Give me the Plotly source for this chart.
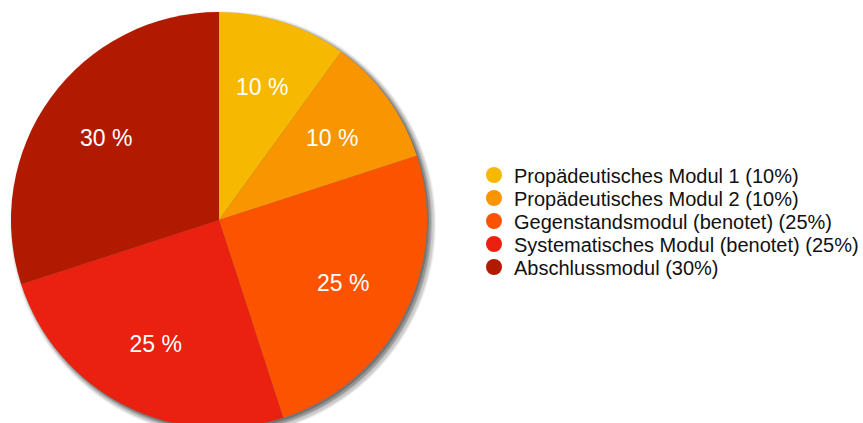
import math
import plotly.graph_objects as go

labels = ["Propädeutisches Modul 1 (10%)", "Propädeutisches Modul 2 (10%)",
          "Gegenstandsmodul (benotet) (25%)", "Systematisches Modul (benotet) (25%)",
          "Abschlussmodul (30%)"]
values = [10, 10, 25, 25, 30]
colors = ["#F6B800", "#F89500", "#FC5300", "#EA2010", "#B21A00"]

# figure a little larger than the 863x423 window: pie is cut at the bottom, legend box may pass the right edge
W, H = 885, 432
cx, cy, r = 219, 220, 208
dom = dict(x=[(cx - r) / W, (cx + r) / W], y=[(H - cy - r) / H, (H - cy + r) / H])

fig = go.Figure()

# soft drop shadow (down-right)
for off, grow, op in [(4, 5, 0.06), (4, 4, 0.09), (4, 3, 0.12), (3, 2, 0.16), (3, 1, 0.22), (2, 0, 0.32)]:
    fig.add_shape(type="circle", xref="paper", yref="paper", layer="below",
                  x0=(cx - r - grow + off) / W, x1=(cx + r + grow + off) / W,
                  y0=(H - cy - r - grow - off) / H, y1=(H - cy + r + grow - off) / H,
                  fillcolor=f"rgba(50,50,50,{op})", line=dict(width=0))

fig.add_trace(go.Pie(
    labels=labels, values=values, sort=False, direction="clockwise", rotation=0,
    marker=dict(colors=colors, line=dict(width=0)),
    textinfo="none", domain=dom, showlegend=False, hoverinfo="label+percent",
))

total = sum(values)
small = [v / total < 0.2 for v in values]

# transparent ring used to place the labels of the larger slices
fig.add_trace(go.Pie(
    labels=labels, values=values, sort=False, direction="clockwise", rotation=0, hole=0.34,
    marker=dict(colors=["rgba(0,0,0,0)"] * len(values), line=dict(width=0)),
    texttemplate=["" if s else "%{value} %" for s in small],
    textposition="inside", insidetextorientation="horizontal",
    textfont=dict(color="white", size=23, family="Liberation Sans"),
    domain=dom, showlegend=False, hoverinfo="skip",
))

# labels of the narrow slices, placed on the slice bisector
cum = 0
for v, s in zip(values, small):
    mid = 2 * math.pi * (cum + v / 2) / total
    cum += v
    if not s:
        continue
    px = cx + 0.673 * r * math.sin(mid)
    py = cy - 0.673 * r * math.cos(mid)
    fig.add_annotation(x=px / W, y=(H - py) / H, xref="paper", yref="paper",
                       text=f"{v} %", showarrow=False, xanchor="center", yanchor="middle",
                       font=dict(color="white", size=23, family="Liberation Sans"))

legend_rows = [175, 198, 221, 244, 267]
layout_legends = {}
for i, (lab, col, yr) in enumerate(zip(labels, colors, legend_rows)):
    key = "legend" if i == 0 else f"legend{i + 1}"
    fig.add_trace(go.Scatter(x=[None], y=[None], mode="markers", name=lab, legend=key,
                             marker=dict(symbol="circle", size=16, color=col)))
    layout_legends[key] = dict(x=474 / W, y=(H - yr) / H, xanchor="left", yanchor="middle",
                               font=dict(family="Liberation Sans", size=20, color="#111"),
                               itemwidth=30, bgcolor="rgba(0,0,0,0)")

fig.update_layout(
    width=W, height=H, margin=dict(l=0, r=0, t=0, b=0),
    paper_bgcolor="white", plot_bgcolor="white",
    xaxis=dict(visible=False), yaxis=dict(visible=False),
    font=dict(family="Liberation Sans"),
    **layout_legends,
)

fig.write_html("out.html", config={"displayModeBar": False},
               post_script="document.body.style.margin='0';document.body.style.overflow='hidden';")
